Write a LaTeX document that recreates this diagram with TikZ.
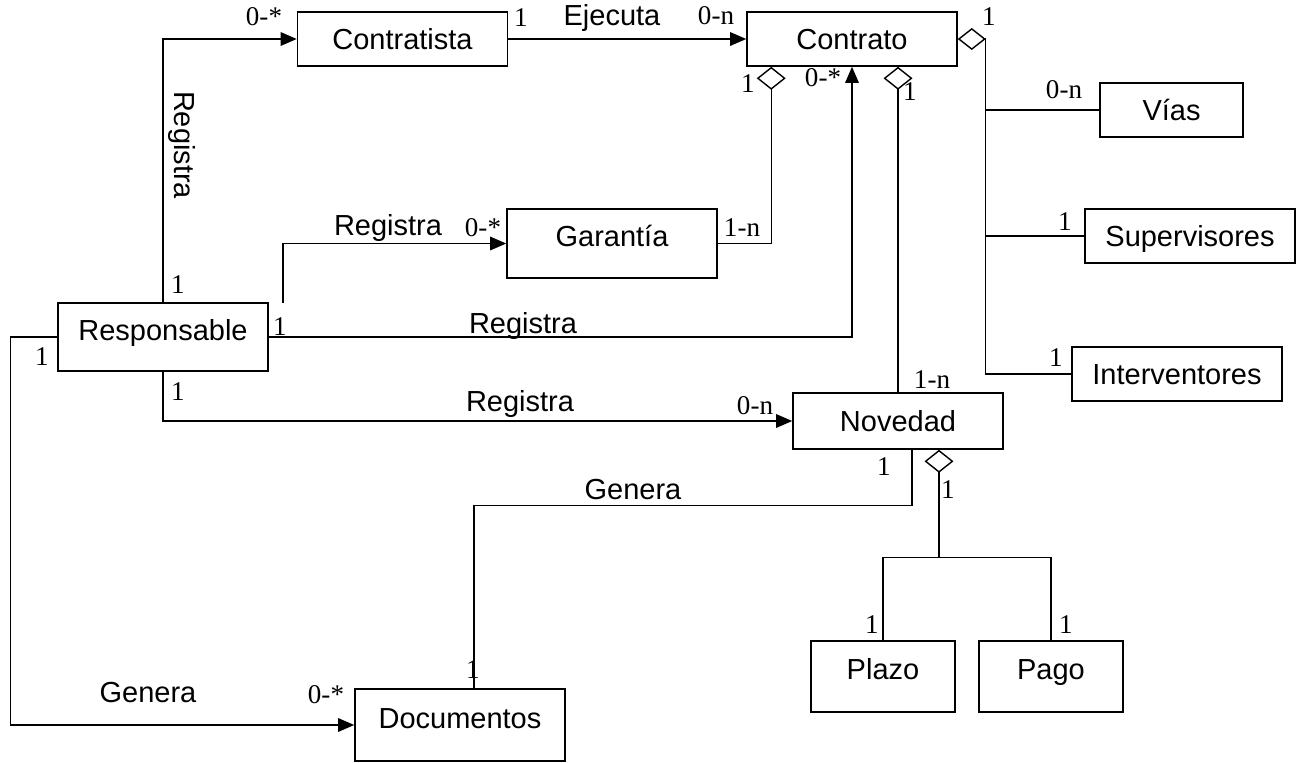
\documentclass[tikz,border=0pt]{standalone}
\usepackage{fontspec}
\setmainfont{Liberation Sans}
\newfontfamily\multfont{Liberation Serif}
\usetikzlibrary{arrows.meta}
\tikzset{
  box/.style={draw, rectangle, line width=0.9pt, minimum width=4.2cm, minimum height=1.08cm,
    inner sep=0pt, text height=14pt, text depth=2.2pt, font=\fontsize{16.5}{18}\selectfont},
  tallbox/.style={box, text height=10pt, text depth=6.2pt},
  lab/.style={inner sep=0pt, font=\fontsize{16.5}{18}\selectfont},
  mult/.style={inner sep=0pt, font=\multfont\fontsize{15.4}{17}\selectfont},
  link/.style={line width=0.8pt},
  assoc/.style={link, -{Triangle[length=0.32cm,width=0.27cm]}},
  aggv/.style={link, {Diamond[open,length=0.46cm,width=0.58cm]}-},
  aggh/.style={link, {Diamond[open,length=0.56cm,width=0.44cm]}-}
}
\begin{document}
\begin{tikzpicture}[x=0.02cm, y=-0.02cm]
\useasboundingbox (0,0) rectangle (1299,762);

\node[box] (1) at (402.5,39) {Contratista};
\node[box] (2) at (852,39) {Contrato};
\node[box, minimum width=2.86cm] (3) at (1171.5,110) {Vías};
\node[box] (4) at (1190,236) {Supervisores};
\node[box] (5) at (1177,374) {Interventores};
\node[tallbox, minimum height=1.38cm] (6) at (612,243.5) {Garantía};
\node[tallbox, minimum height=1.36cm] (7) at (163,337) {Responsable};
\node[box, minimum height=1.12cm] (8) at (898,421) {Novedad};
\node[tallbox, minimum height=1.44cm] (9) at (460,725) {Documentos};
\node[tallbox, minimum width=2.88cm, minimum height=1.42cm] (10) at (883,676.5) {Plazo};
\node[tallbox, minimum width=2.88cm, minimum height=1.42cm] (11) at (1051,676.5) {Pago};

\coordinate (g0) at (283,303);

\path[draw,assoc] (7.north) |- (1.west);
\path[draw,assoc] (1.east) -- (2.west);
\path[draw,assoc] (g0) |- (6.west);
\path[draw,aggv] ([xshift=0.5cm]2.south west) |- (6.east);
\path[draw,assoc] (7.east) -| (2.south);
\path[draw,aggv] (2.south -| 8.north) -- (8.north);
\path[draw,aggh] (2.east) -- ++(28,0) coordinate (c0) |- (5.west);
\path[draw,link] (c0) |- (3.west);
\path[draw,link] (c0) |- (4.west);
\path[draw,assoc] (7.south) |- (8.west);
\path[draw,assoc] (7.west) -- ++(-47,0) |- (9.west);
\path[draw,link] ([xshift=0.28cm]8.south) -- ++(0,56) -| ([xshift=0.28cm]9.north);
\path[draw,aggv] ([xshift=0.82cm]8.south) -- ++(0,108) coordinate (c1);
\path[draw,link] (c1) -| (10.north);
\path[draw,link] (c1) -| (11.north);

\node[mult] (l1) at (264,17) {0-*};
\node[mult] (l2) at (521,18) {1};
\node[lab] (l3) at (612,18) {Ejecuta};
\node[mult] (l4) at (716,16) {0-n};
\node[mult] (l5) at (989,17) {1};
\node[mult] (l6) at (1064,90) {0-n};
\node[mult] (l7) at (1065,222) {1};
\node[mult] (l8) at (1056,358) {1};
\node[lab, rotate=-90] (l9) at (182,145) {Registra};
\node[mult] (l10) at (178,285) {1};
\node[lab] (l11) at (388,228) {Registra};
\node[mult] (l12) at (483,228) {0-*};
\node[mult] (l13) at (742,228) {1-n};
\node[mult] (l14) at (748,84) {1};
\node[mult] (l15) at (823,78) {0-*};
\node[mult] (l16) at (910,92) {1};
\node[mult] (l17) at (280,327) {1};
\node[lab] (l18) at (523,326) {Registra};
\node[mult] (l19) at (42,357) {1};
\node[mult] (l20) at (178,392) {1};
\node[lab] (l21) at (520,404) {Registra};
\node[mult] (l22) at (755,406) {0-n};
\node[mult] (l23) at (932,380) {1-n};
\node[mult] (l24) at (884,467) {1};
\node[mult] (l25) at (948,490) {1};
\node[lab] (l26) at (633,490) {Genera};
\node[mult] (l27) at (473,670) {1};
\node[lab] (l28) at (148,693) {Genera};
\node[mult] (l29) at (326,695) {0-*};
\node[mult] (l30) at (872,625) {1};
\node[mult] (l31) at (1066,625) {1};
\end{tikzpicture}
\end{document}
